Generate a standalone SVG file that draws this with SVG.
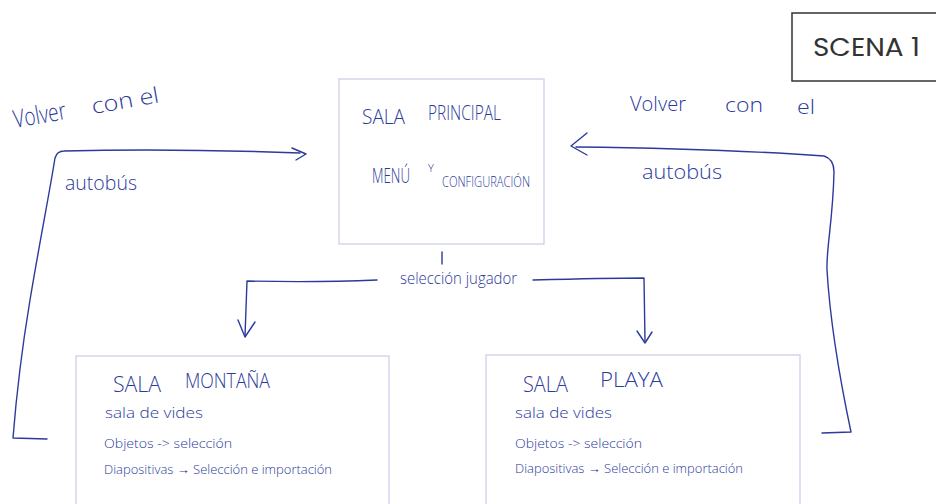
<svg xmlns="http://www.w3.org/2000/svg" width="936" height="504" viewBox="0 0 936 504">
  <style>
    .ink { fill: #2b3a9c; font-family: "Open Sans", "Liberation Sans", sans-serif; font-weight: 300; }
    .line { fill: none; stroke: #2b3a9c; stroke-width: 1.4; stroke-linecap: round; stroke-linejoin: round; }
    .box { fill: #ffffff; stroke: #c9cbe8; stroke-width: 1.2; }
  </style>
  <rect width="936" height="504" fill="#ffffff"/>

  <!-- scene label -->
  <g id="scena">
    <rect x="792" y="13" width="150" height="68" fill="none" stroke="#333333" stroke-width="1.5"/>
    <text x="813" y="56" font-family="Poppins, Inter, 'Liberation Sans', sans-serif" font-size="25" fill="#333333" textLength="107" lengthAdjust="spacingAndGlyphs">SCENA 1</text>
  </g>

  <!-- main room -->
  <g id="sala-principal">
    <rect class="box" x="339" y="79" width="205" height="165"/>
    <text class="ink" x="362" y="124" font-size="20" textLength="43" lengthAdjust="spacingAndGlyphs">SALA</text>
    <text class="ink" x="428" y="120" font-size="20" textLength="73" lengthAdjust="spacingAndGlyphs">PRINCIPAL</text>
    <text class="ink" x="372" y="183" font-size="20" textLength="38" lengthAdjust="spacingAndGlyphs">MENÚ</text>
    <text class="ink" x="428" y="172" font-size="11">Y</text>
    <text class="ink" x="442" y="187" font-size="14" textLength="88" lengthAdjust="spacingAndGlyphs">CONFIGURACIÓN</text>
  </g>

  <!-- mountain room -->
  <g id="sala-montana">
    <rect class="box" x="76" y="356" width="313" height="160"/>
    <text class="ink" x="113" y="392" font-size="22" textLength="48" lengthAdjust="spacingAndGlyphs">SALA</text>
    <text class="ink" x="185" y="388" font-size="20" textLength="85" lengthAdjust="spacingAndGlyphs">MONTAÑA</text>
    <text class="ink" x="105" y="418" font-size="15" textLength="98" lengthAdjust="spacingAndGlyphs">sala de vides</text>
    <text class="ink" x="104" y="448" font-size="13" textLength="128" lengthAdjust="spacingAndGlyphs">Objetos -&gt; selección</text>
    <text class="ink" x="104" y="474" font-size="13" textLength="228" lengthAdjust="spacingAndGlyphs">Diapositivas → Selección e importación</text>
  </g>

  <!-- beach room -->
  <g id="sala-playa">
    <rect class="box" x="486" y="355" width="314" height="160"/>
    <text class="ink" x="523" y="392" font-size="22" textLength="45" lengthAdjust="spacingAndGlyphs">SALA</text>
    <text class="ink" x="600" y="387" font-size="20" textLength="63" lengthAdjust="spacingAndGlyphs">PLAYA</text>
    <text class="ink" x="515" y="418" font-size="15" textLength="97" lengthAdjust="spacingAndGlyphs">sala de vides</text>
    <text class="ink" x="515" y="448" font-size="13" textLength="127" lengthAdjust="spacingAndGlyphs">Objetos -&gt; selección</text>
    <text class="ink" x="515" y="473" font-size="13" textLength="228" lengthAdjust="spacingAndGlyphs">Diapositivas → Selección e importación</text>
  </g>

  <!-- connectors -->
  <g id="connectors">
    <!-- player selection -->
    <path class="line" d="M442 252 L442 264"/>
    <path class="line" d="M377 280 C330 282 290 282 247 281 L245 336"/>
    <path class="line" d="M238 320 L245 337 L255 322"/>
    <path class="line" d="M533 280 C570 279 610 278 644 278 L645 341"/>
    <path class="line" d="M637 331 L645 343 L652 332"/>
    <text class="ink" x="400" y="284" font-size="16" textLength="117" lengthAdjust="spacingAndGlyphs">selección jugador</text>

    <!-- bus back, left -->
    <path class="line" d="M47 439 L13 438 C16 400 20 360 30 300 C40 240 50 190 55 158 Q57 151 64 151 C140 149 220 150 300 153"/>
    <path class="line" d="M292 148 L306 154 L296 160"/>
    <text class="ink" x="15" y="128" font-size="25" transform="rotate(-10 15 128)" textLength="53" lengthAdjust="spacingAndGlyphs">Volver</text>
    <text class="ink" x="93" y="114" font-size="22" transform="rotate(-10 93 114)" textLength="68" lengthAdjust="spacingAndGlyphs">con  el</text>
    <text class="ink" x="65" y="190" font-size="20" textLength="72" lengthAdjust="spacingAndGlyphs">autobús</text>

    <!-- bus back, right -->
    <path class="line" d="M576 147 C660 148 740 150 824 156 Q834 159 834 172 C833 220 826 250 827 270 C830 320 840 380 851 432 L822 433"/>
    <path class="line" d="M587 133 L571 146 L587 155"/>
    <text class="ink" x="630" y="111" font-size="20" textLength="56" lengthAdjust="spacingAndGlyphs">Volver</text>
    <text class="ink" x="725" y="112" font-size="20" textLength="38" lengthAdjust="spacingAndGlyphs">con</text>
    <text class="ink" x="797" y="114" font-size="20" textLength="18" lengthAdjust="spacingAndGlyphs">el</text>
    <text class="ink" x="642" y="179" font-size="20" textLength="80" lengthAdjust="spacingAndGlyphs">autobús</text>
  </g>
</svg>
